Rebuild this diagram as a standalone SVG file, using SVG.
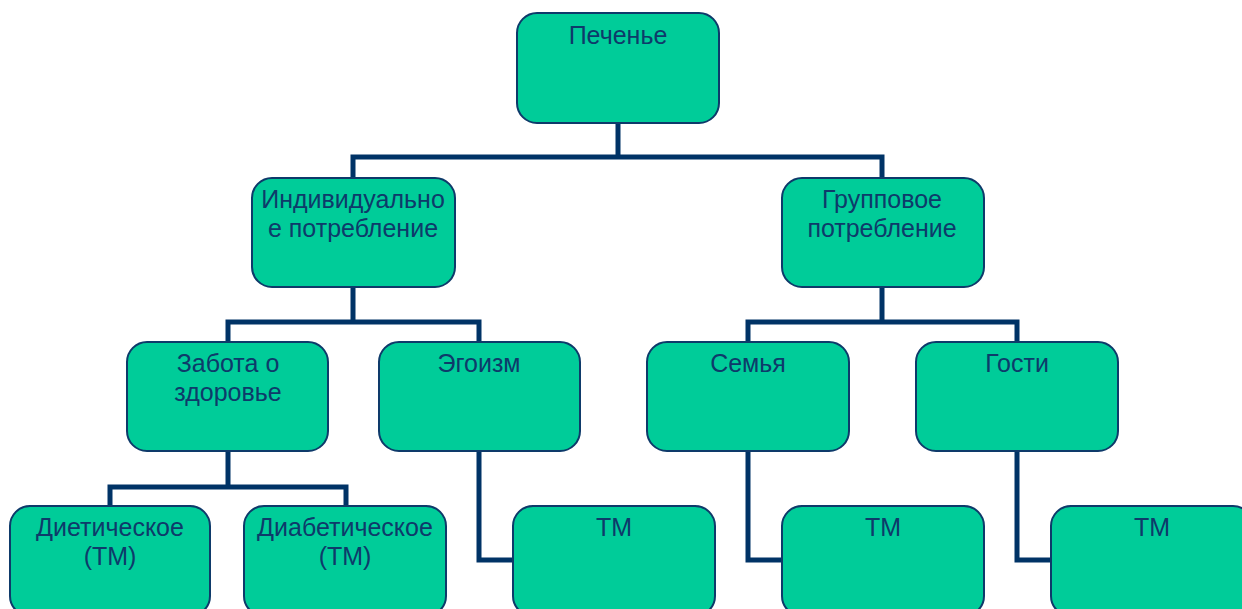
<svg xmlns="http://www.w3.org/2000/svg" width="1242" height="609" viewBox="0 0 1242 609">
<style>
.box{fill:#00CC99;stroke:#0E3A6A;stroke-width:2}
.lbl{font-family:"Liberation Sans",Arial,sans-serif;font-size:25px;fill:#0E3A6A;text-anchor:middle}
.conn{fill:none;stroke:#003366;stroke-width:5;stroke-linejoin:miter}
</style>
<rect width="1242" height="609" fill="#ffffff"/>
<g id="connectors">
<path class="conn" d="M618,123 V157 M353,178 V157 H882 V178"/>
<path class="conn" d="M353,287 V322 M228,342 V322 H479 V342"/>
<path class="conn" d="M882,287 V322 M748,342 V322 H1017 V342"/>
<path class="conn" d="M228,451 V487 M110,506 V487 H346 V506"/>
<path class="conn" d="M479,451 V560 H513"/>
<path class="conn" d="M748,451 V560 H782"/>
<path class="conn" d="M1017,451 V560 H1051"/>
</g>
<g id="n-pechenye"><rect class="box" x="517" y="13" width="202" height="110" rx="20"/><text class="lbl" x="618" y="44">Печенье</text></g>
<g id="n-individ"><rect class="box" x="252" y="178" width="203" height="109" rx="20"/><text class="lbl" x="353" y="208">Индивидуально</text><text class="lbl" x="353" y="237">е потребление</text></g>
<g id="n-group"><rect class="box" x="782" y="178" width="202" height="109" rx="20"/><text class="lbl" x="882" y="208">Групповое</text><text class="lbl" x="882" y="237">потребление</text></g>
<g id="n-zabota"><rect class="box" x="127" y="342" width="201" height="109" rx="20"/><text class="lbl" x="228" y="372">Забота о</text><text class="lbl" x="228" y="401">здоровье</text></g>
<g id="n-egoizm"><rect class="box" x="379" y="342" width="201" height="109" rx="20"/><text class="lbl" x="479" y="372">Эгоизм</text></g>
<g id="n-semya"><rect class="box" x="647" y="342" width="202" height="109" rx="20"/><text class="lbl" x="748" y="372">Семья</text></g>
<g id="n-gosti"><rect class="box" x="916" y="342" width="202" height="109" rx="20"/><text class="lbl" x="1017" y="372">Гости</text></g>
<g id="n-diet"><rect class="box" x="10" y="506" width="200" height="110" rx="20"/><text class="lbl" x="110" y="536">Диетическое</text><text class="lbl" x="110" y="565">(ТМ)</text></g>
<g id="n-diabet"><rect class="box" x="244" y="506" width="202" height="110" rx="20"/><text class="lbl" x="345" y="536">Диабетическое</text><text class="lbl" x="345" y="565">(ТМ)</text></g>
<g id="n-tm1"><rect class="box" x="513" y="506" width="202" height="110" rx="20"/><text class="lbl" x="614" y="536">ТМ</text></g>
<g id="n-tm2"><rect class="box" x="782" y="506" width="202" height="110" rx="20"/><text class="lbl" x="883" y="536">ТМ</text></g>
<g id="n-tm3"><rect class="box" x="1051" y="506" width="202" height="110" rx="20"/><text class="lbl" x="1152" y="536">ТМ</text></g>
</svg>
